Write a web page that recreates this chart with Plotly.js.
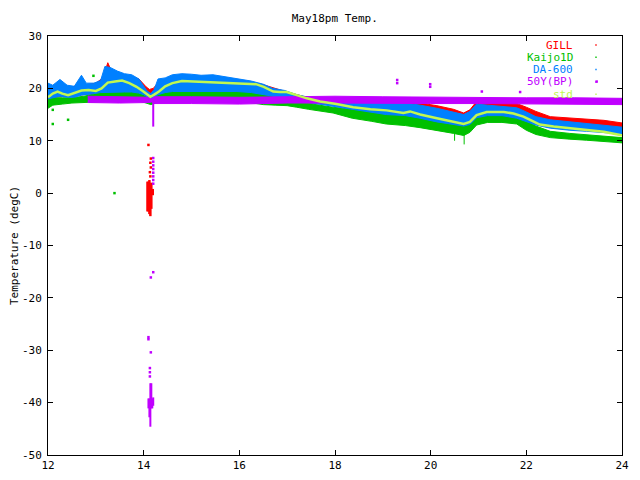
<!DOCTYPE html>
<html>
<head>
<meta charset="utf-8">
<script src="https://cdn.plot.ly/plotly-3.0.1.min.js"></script>
<style>html,body{margin:0;padding:0;background:#fff;}#chart{width:640px;height:480px;}</style>
</head>
<body>
<div id="chart"></div>
<script>
// ---- data (hours, degC) ----
const seriesNames = ["GILL", "Kaijo1D", "DA-600", "50Y(BP)", "std"];
const seriesColors = ["#ff0000", "#00c000", "#0080ff", "#c000ff", "#c0f850"];

// GILL (red) envelope
const tGill  = [12.0,12.5,13.0,13.15,13.25,13.35,13.6,13.9,14.05,14.12,14.2,14.3,14.6,15.0,15.5,16.0,16.5,16.75,17.0,17.45,17.96,18.36,18.77,19.07,19.47,19.78,20.13,20.48,20.69,20.82,20.96,21.49,21.8,22.0,22.2,22.5,22.91,23.26,23.62,24.0];
const gillHi = [20.3,20.3,21.0,22.0,24.9,22.8,22.5,21.8,20.3,19.8,20.0,21.0,22.0,22.3,22.3,21.6,20.7,20.0,19.3,18.2,17.6,17.7,17.7,17.6,17.5,17.2,16.7,16.0,15.3,15.9,17.5,17.3,17.1,16.4,15.6,14.6,14.3,14.1,13.9,13.4];
const gillLo = [18.2,18.6,19.0,19.2,19.4,19.4,19.5,19.2,18.5,18.0,18.2,18.8,19.4,19.5,19.5,19.3,18.6,18.2,18.0,17.2,16.8,16.3,15.8,15.5,15.2,14.8,14.2,13.8,13.4,13.8,15.0,15.2,15.0,14.5,14.0,13.2,13.0,12.8,12.6,12.3];

// Kaijo1D (green) envelope
const tKaijo  = [12.0,12.1,12.3,12.5,12.75,13.0,13.2,13.5,13.9,14.05,14.15,14.25,14.45,15.0,15.5,16.0,16.5,16.75,17.0,17.2,17.45,17.7,17.96,18.36,18.77,19.07,19.47,19.78,20.13,20.48,20.69,20.82,20.96,21.19,21.49,21.8,22.0,22.2,22.5,22.91,23.26,23.62,24.0];
const kaijoHi = [18.4,18.2,18.2,18.2,18.5,19.0,19.4,19.5,19.4,18.6,18.3,19.0,19.4,19.8,19.8,19.7,19.4,19.2,18.6,17.5,17.1,16.7,16.4,16.0,15.6,15.5,15.3,14.6,14.0,13.3,13.0,13.6,15.0,15.4,15.4,15.0,13.8,12.8,11.8,11.4,11.1,10.8,10.6];
const kaijoLo = [16.2,16.8,17.0,17.2,17.3,17.5,17.5,17.6,17.6,17.2,16.9,17.2,17.5,17.6,17.7,17.6,16.9,16.8,16.7,16.4,16.0,15.6,15.3,14.3,13.7,13.2,12.9,12.5,12.0,11.4,11.0,11.6,13.0,13.5,13.5,13.2,12.0,11.2,10.6,10.3,10.1,9.9,9.6];

// DA-600 (blue) envelope
const tDa  = [12.0,12.1,12.25,12.4,12.55,12.7,12.8,12.96,13.1,13.19,13.3,13.45,13.6,13.75,13.9,14.0,14.07,14.15,14.22,14.3,14.45,14.6,14.8,15.0,15.2,15.45,15.7,15.95,16.25,16.5,16.7,16.95,17.2,17.45,17.7,17.96,18.36,18.77,19.07,19.47,19.78,20.13,20.48,20.69,20.82,20.96,21.19,21.49,21.8,22.0,22.2,22.5,22.91,23.26,23.62,24.0];
const daHi = [21.0,20.6,21.7,20.6,20.4,22.5,21.0,21.0,21.5,24.2,24.0,23.3,22.8,22.6,21.8,20.4,19.5,19.0,19.8,21.8,22.0,22.6,22.8,22.7,22.5,22.6,22.2,21.9,21.4,20.8,20.0,19.6,18.8,18.3,17.9,17.7,17.6,17.3,17.4,17.2,16.8,16.2,15.5,15.0,15.6,17.0,16.8,16.6,16.3,15.5,14.6,14.0,13.6,13.4,13.0,12.6];
const daLo = [18.0,18.2,18.5,18.3,18.3,18.7,18.8,19.0,19.2,19.3,19.3,19.3,19.3,19.3,19.1,18.8,18.4,17.9,18.3,18.8,19.2,19.4,19.4,19.4,19.5,19.5,19.4,19.4,19.2,18.8,18.5,18.2,17.7,17.3,16.9,16.6,16.0,15.4,15.0,14.8,14.3,13.6,13.1,12.8,13.1,14.4,14.8,14.8,14.3,13.7,13.0,12.4,12.0,11.8,11.6,11.3];

// 50Y(BP) (purple) envelope
const tBp  = [12.83,13.5,14.1,14.17,14.22,15.0,16.0,17.0,18.0,19.0,20.0,21.0,22.0,23.0,24.0];
const bpHi = [18.5,18.4,18.3,18.0,18.4,18.4,18.3,18.4,18.5,18.4,18.3,18.3,18.2,18.2,18.1];
const bpLo = [17.3,17.2,17.3,17.4,17.1,17.1,17.0,17.2,17.2,17.2,17.1,17.1,17.1,17.0,16.9];

// std (mean line)
const tStd = [12.0,12.1,12.2,12.3,12.42,12.55,12.7,12.85,13.0,13.12,13.25,13.4,13.55,13.7,13.85,13.98,14.08,14.14,14.22,14.32,14.45,14.6,14.8,15.1,15.4,15.8,16.12,16.35,16.51,16.71,16.85,16.99,17.2,17.41,17.69,17.93,18.03,18.38,18.74,19.08,19.43,19.57,19.78,20.13,20.47,20.69,20.82,20.96,21.17,21.53,21.73,21.94,22.08,22.28,22.57,22.91,23.26,23.62,23.96,24.0];
const stdVal = [18.3,19.0,19.4,19.0,18.7,19.1,19.6,19.7,19.5,20.0,21.1,21.3,21.5,21.0,20.3,19.5,18.8,18.4,18.8,19.4,20.4,21.0,21.4,21.3,21.2,21.1,21.0,20.8,20.3,19.4,19.3,19.3,18.7,18.1,17.5,17.2,17.0,16.4,16.0,15.8,15.3,15.6,15.0,14.3,13.6,13.2,13.6,14.9,15.5,15.5,15.2,14.6,14.0,13.1,12.7,12.4,12.1,11.7,11.1,11.0];

// outlier vertical runs (time, low, high) and isolated points
const gillRunT  = [14.08,14.10,14.12,14.14,14.16,14.19];
const gillRunLo = [-3.5,-3.5,-4.0,-4.4,-3.0,-0.4];
const gillRunHi = [2.2,2.2,2.5,1.5,2.0,0.8];
const gillPtT = [14.10,14.15,14.14,14.15,14.13,14.14];
const gillPtV = [9.2,6.6,5.8,4.9,4.0,3.2];

const bpRunT  = [14.20,14.10,14.12,14.14,14.16,14.18,14.20];
const bpRunLo = [12.7,-41.1,-42.8,-44.6,-41.1,-41.1,-40.6];
const bpRunHi = [17.5,-39.2,-39.2,-36.3,-36.3,-39.2,-39.0];
const bpPtT = [14.20,14.20,14.20,14.20,14.20,14.20,14.20,14.20,14.20,14.15,14.10,14.10,14.15,14.13,14.13,14.13,19.30,19.30,19.99,19.99,21.07,21.87,23.47];
const bpPtV = [6.7,6.0,5.3,4.6,3.9,3.2,2.5,1.8,-15.1,-16.1,-27.5,-27.9,-30.4,-33.4,-34.2,-35.0,21.6,21.0,20.8,20.3,19.4,19.3,21.3];

const kaijoRunT  = [20.50,20.70];
const kaijoRunLo = [10.0,9.3];
const kaijoRunHi = [11.5,11.5];
const kaijoPtT = [12.10,12.10,12.42,12.95,13.39];
const kaijoPtV = [15.9,13.2,14.0,22.4,0.0];

const xTicks = [12,14,16,18,20,22,24];
const yTicks = [-50,-40,-30,-20,-10,0,10,20,30];

// ---- helpers ----
function band(t, lo, hi, color) {
  return {
    type: 'scatter', mode: 'lines', hoverinfo: 'skip', showlegend: false,
    x: t.concat(t.slice().reverse()),
    y: hi.concat(lo.slice().reverse()),
    fill: 'toself', fillcolor: color,
    line: {color: color, width: 1}
  };
}
function runs(t, lo, hi, color, w) {
  const x = [], y = [];
  for (let i = 0; i < t.length; i++) { x.push(t[i], t[i], null); y.push(lo[i], hi[i], null); }
  return {type: 'scatter', mode: 'lines', x: x, y: y, hoverinfo: 'skip', showlegend: false,
          line: {color: color, width: w}};
}
function pts(t, v, color) {
  return {type: 'scatter', mode: 'markers', x: t, y: v, hoverinfo: 'skip', showlegend: false,
          marker: {color: color, size: 2.5, symbol: 'square', line: {width: 0}}};
}

const traces = [
  band(tGill, gillLo, gillHi, seriesColors[0]),
  runs(gillRunT, gillRunLo, gillRunHi, seriesColors[0], 2.5),
  pts(gillPtT, gillPtV, seriesColors[0]),
  band(tKaijo, kaijoLo, kaijoHi, seriesColors[1]),
  runs(kaijoRunT, kaijoRunLo, kaijoRunHi, seriesColors[1], 1),
  pts(kaijoPtT, kaijoPtV, seriesColors[1]),
  band(tDa, daLo, daHi, seriesColors[2]),
  band(tBp, bpLo, bpHi, seriesColors[3]),
  runs(bpRunT, bpRunLo, bpRunHi, seriesColors[3], 2),
  pts(bpPtT, bpPtV, seriesColors[3]),
  {type: 'scatter', mode: 'lines', x: tStd, y: stdVal, hoverinfo: 'skip', showlegend: false,
   line: {color: seriesColors[4], width: 2.5}}
];

const FONT = 'DejaVu Sans Mono, Liberation Mono, monospace';

// key: right-aligned coloured labels with a dot sample to the right
const annotations = [], shapes = [];
const keyTop = 45, keyStep = 12.3; // pixel rows of the key
for (let i = 0; i < seriesNames.length; i++) {
  const py = keyTop + i * keyStep;
  const yPaper = 1 - (py - 36) / 419;
  annotations.push({
    xref: 'paper', yref: 'paper', x: (575 - 48) / 574, y: yPaper,
    xanchor: 'right', yanchor: 'middle', showarrow: false,
    text: seriesNames[i], font: {family: FONT, size: 11, color: seriesColors[i]}
  });
  const xd = (596 - 48) / 574;
  shapes.push({type: 'rect', xref: 'paper', yref: 'paper',
    x0: xd - 0.0012, x1: xd + 0.0012, y0: yPaper - 0.0018, y1: yPaper + 0.0018,
    fillcolor: seriesColors[i], line: {width: 0}});
}

const axisCommon = {
  showgrid: false, zeroline: false, showline: true, linecolor: '#000', linewidth: 1,
  mirror: 'ticks', ticks: 'inside', ticklen: 5, tickcolor: '#000', tickwidth: 1,
  tickfont: {family: FONT, size: 11, color: '#000'}
};

const layout = {
  width: 640, height: 480,
  margin: {l: 48, r: 18, t: 36, b: 25, pad: 0},
  paper_bgcolor: '#fff', plot_bgcolor: '#fff',
  showlegend: false,
  title: {text: 'May18pm Temp.', font: {family: FONT, size: 11, color: '#000'},
          x: 0.523, xanchor: 'center', y: 1 - 18 / 480, yanchor: 'middle'},
  xaxis: Object.assign({}, axisCommon, {range: [12, 24], tickvals: xTicks, ticktext: xTicks.map(String)}),
  yaxis: Object.assign({}, axisCommon, {range: [-50, 30], tickvals: yTicks, ticktext: yTicks.map(String),
          ticklabelstandoff: 3,
          title: {text: 'Temperature (degC)', font: {family: FONT, size: 11, color: '#000'}, standoff: 1}}),
  annotations: annotations,
  shapes: shapes
};

Plotly.newPlot('chart', traces, layout, {displayModeBar: false, staticPlot: true});
</script>
</body>
</html>
